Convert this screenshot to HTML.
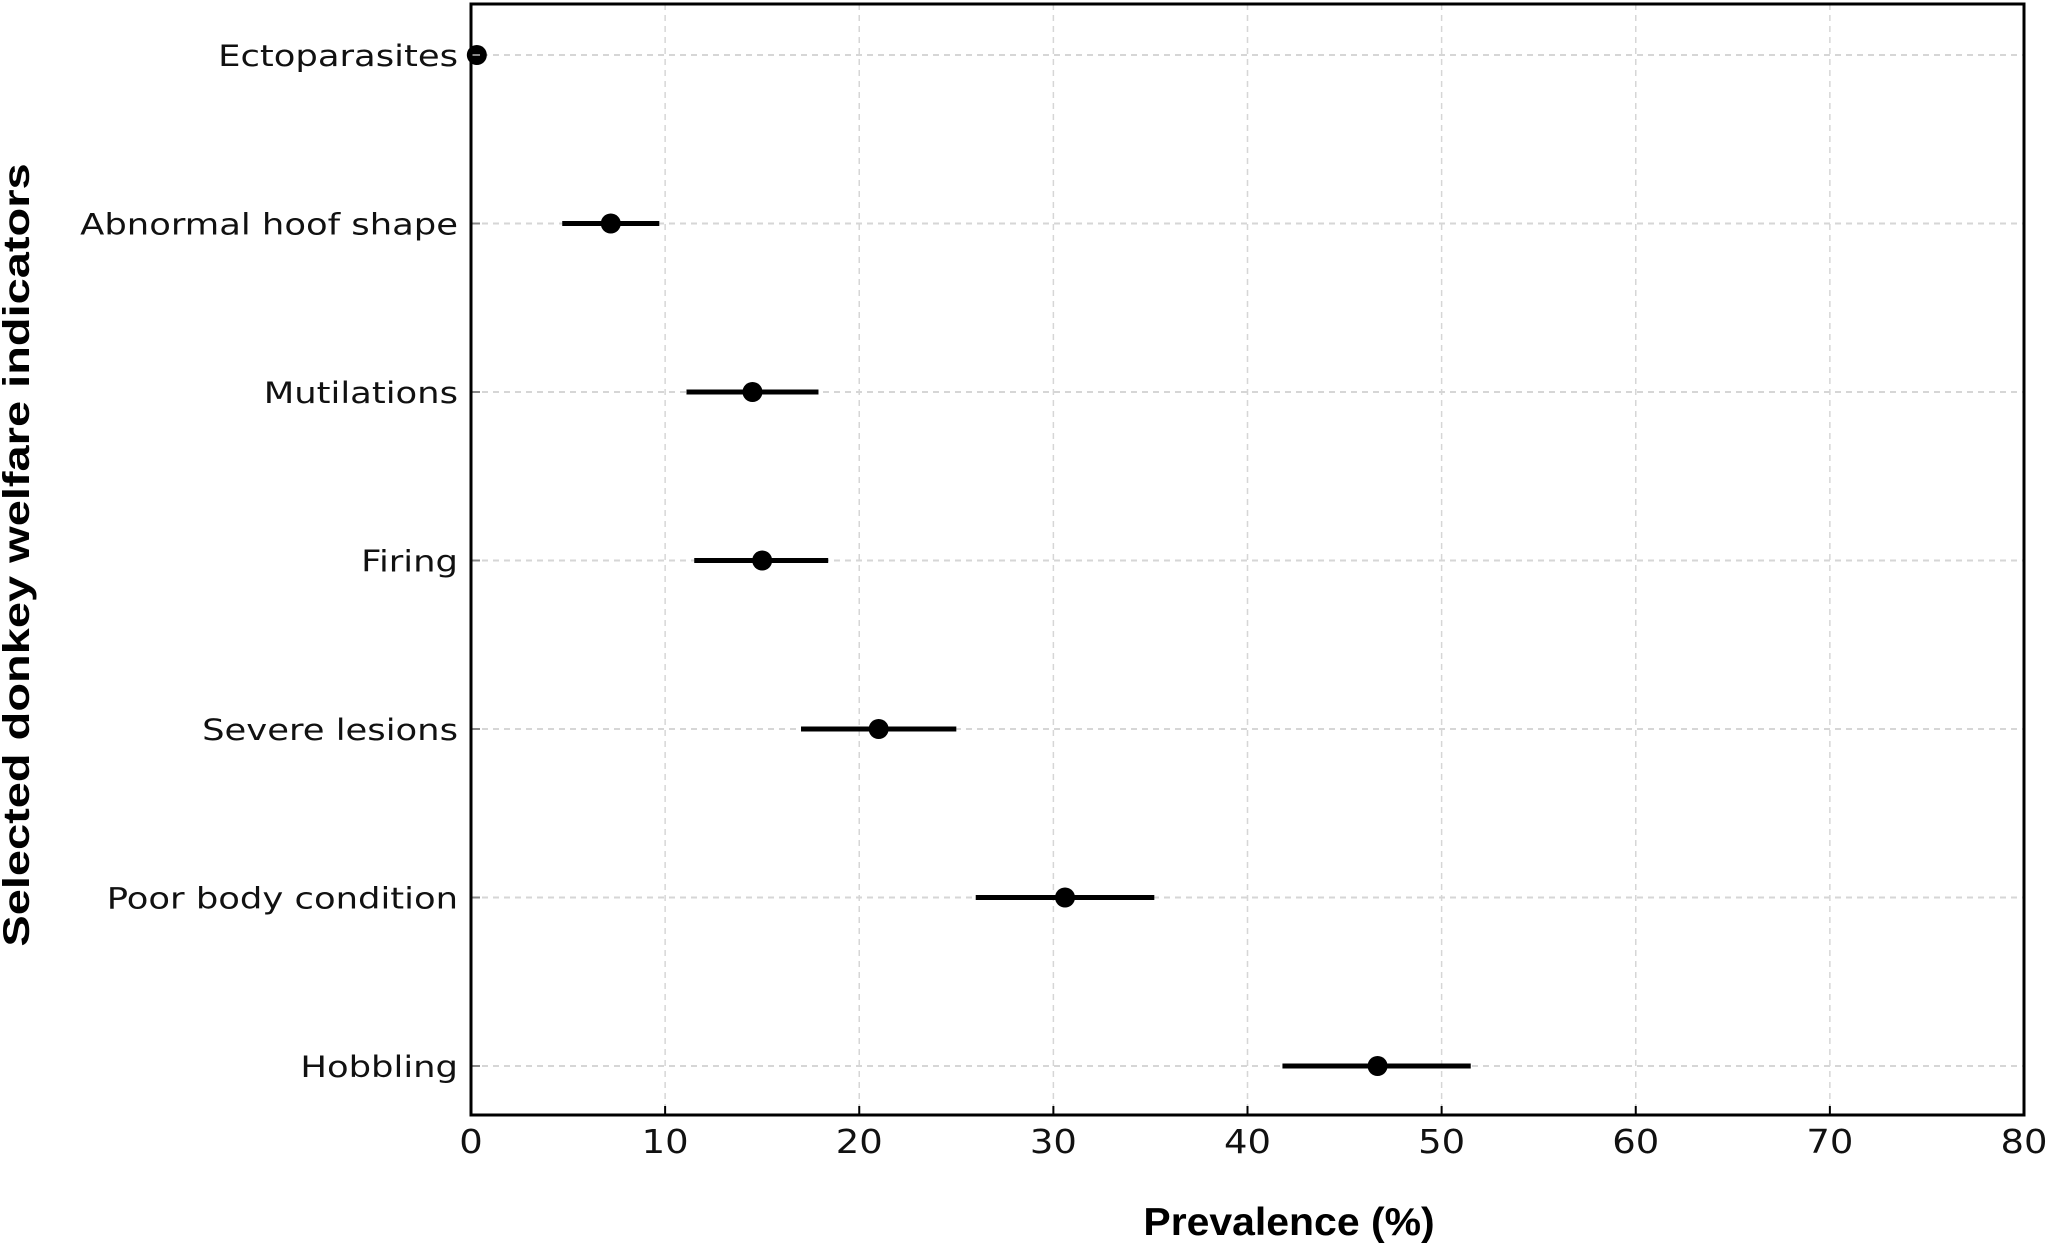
<!DOCTYPE html>
<html><head><meta charset="utf-8"><style>
html,body{margin:0;padding:0;background:#fff;}
svg{display:block;}
</style></head><body>
<svg id="chart" width="2050" height="1244" xmlns="http://www.w3.org/2000/svg" font-family="'DejaVu Sans','Liberation Sans',sans-serif">
<g id="grid"></g>
<g id="marks"></g>
<g id="axes"></g>
<text transform="translate(1289,1235) scale(1.05,1)" text-anchor="middle" font-family="'Liberation Sans',sans-serif" font-weight="bold" font-size="39">Prevalence (%)</text>
<text transform="translate(29,555) rotate(-90) scale(1.27,1)" text-anchor="middle" font-family="'Liberation Sans',sans-serif" font-weight="bold" font-size="37">Selected donkey welfare indicators</text>
</svg>
<script>
const categories = ["Ectoparasites","Abnormal hoof shape","Mutilations","Firing","Severe lesions","Poor body condition","Hobbling"];
const estimates = [0.3, 7.2, 14.5, 15.0, 21.0, 30.6, 46.7];
const lowerCI = [0.3, 4.7, 11.1, 11.5, 17.0, 26.0, 41.8];
const upperCI = [0.3, 9.7, 17.9, 18.4, 25.0, 35.2, 51.5];
const xTicks = [0,10,20,30,40,50,60,70,80];

const NS = "http://www.w3.org/2000/svg";
const L = 471, R = 2024, T = 4, B = 1115;
const xMin = 0, xMax = 80;
const yFirst = 55, yLast = 1066;
function xs(v){ return L + (v - xMin) / (xMax - xMin) * (R - L); }
function ys(i){ return yFirst + i * (yLast - yFirst) / (categories.length - 1); }
function mk(tag, attrs, parent){
  const e = document.createElementNS(NS, tag);
  for (const k in attrs) e.setAttribute(k, attrs[k]);
  parent.appendChild(e); return e;
}
const grid = document.getElementById('grid');
const marks = document.getElementById('marks');
const axes = document.getElementById('axes');

xTicks.forEach(t => {
  const x = xs(t);
  if (t > xMin && t < xMax) {
    const g = mk('line', {x1:x, x2:x, y1:T, y2:B, stroke:'#d6d6d6', 'stroke-width':1.5, 'stroke-dasharray':'6,5'}, grid);
    
    
  }
  const tk = mk('line', {x1:x, x2:x, y1:B, y2:B-9, stroke:'#000', 'stroke-width':2}, axes);
  
  
  const lb = mk('text', {transform:'translate(' + x + ',' + (B+38) + ') scale(1.12,1)', 'text-anchor':'middle', 'font-size':33, fill:'#111'}, axes);
  lb.textContent = t;
  
  
});

categories.forEach((c, i) => {
  const y = ys(i);
  const g = mk('line', {x1:L, x2:R, y1:y, y2:y, stroke:'#d6d6d6', 'stroke-width':2, 'stroke-dasharray':'6,5'}, grid);
  
  
  const tk = mk('line', {x1:L, x2:L+9, y1:y, y2:y, stroke:'#888', 'stroke-width':2}, axes);
  
  
  const lb = mk('text', {transform:'translate(' + (L-13) + ',' + (y+11) + ') scale(1.22,1)', 'text-anchor':'end', 'font-size':29, fill:'#111'}, axes);
  lb.textContent = c;
  
  

  const ci = mk('line', {x1:xs(lowerCI[i]), x2:xs(upperCI[i]), y1:y, y2:y, stroke:'#000', 'stroke-width':5}, marks);
  
  
  const pt = mk('circle', {cx:xs(estimates[i]), cy:y, r:10, fill:'#000'}, marks);
  
  
});

const frame = mk('rect', {x:L, y:T, width:R-L, height:B-T, fill:'none', stroke:'#000', 'stroke-width':3}, axes);


</script>
</body></html>
